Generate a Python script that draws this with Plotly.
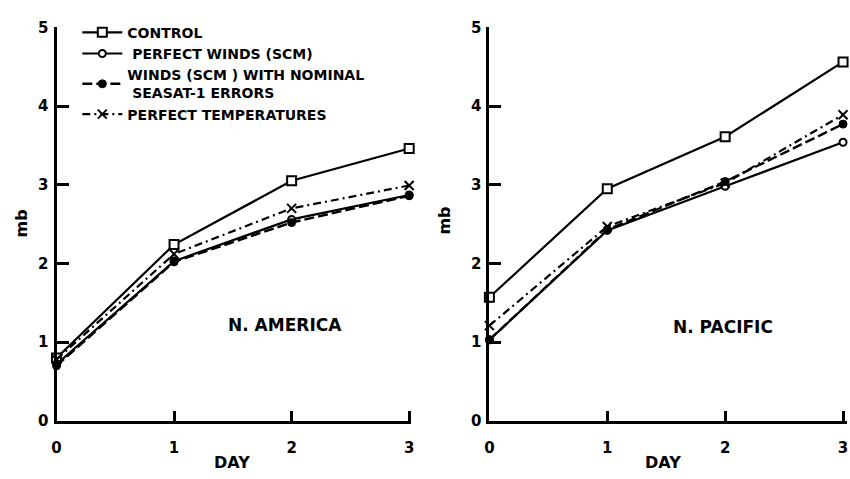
import plotly.graph_objects as go

days = [0, 1, 2, 3]
series_names = ["CONTROL", " PERFECT WINDS (SCM)", "WINDS (SCM ) WITH NOMINAL<br> SEASAT-1 ERRORS", "PERFECT TEMPERATURES"]

# N. America (left panel)
na_control = [0.80, 2.24, 3.05, 3.46]
na_perfect_winds = [0.72, 2.03, 2.56, 2.87]
na_nominal_winds = [0.70, 2.02, 2.52, 2.86]
na_perfect_temps = [0.78, 2.12, 2.70, 2.99]

# N. Pacific (right panel)
np_control = [1.57, 2.95, 3.61, 4.56]
np_perfect_winds = [1.03, 2.42, 2.98, 3.54]
np_nominal_winds = [1.03, 2.43, 3.04, 3.77]
np_perfect_temps = [1.21, 2.47, 3.02, 3.89]

FONT = "DejaVu Sans"
BLACK = "black"

styles = [
    dict(line=dict(color=BLACK, width=2.2, dash="solid"),
         marker=dict(symbol="square", size=9, color="white", line=dict(color=BLACK, width=2))),
    dict(line=dict(color=BLACK, width=2.2, dash="solid"),
         marker=dict(symbol="circle", size=7, color="white", line=dict(color=BLACK, width=2))),
    dict(line=dict(color=BLACK, width=2.4, dash="10px,4px"),
         marker=dict(symbol="circle", size=8, color=BLACK, line=dict(color=BLACK, width=1))),
    dict(line=dict(color=BLACK, width=2.2, dash="8px,4px,2px,4px"),
         marker=dict(symbol="x-thin", size=9, color=BLACK, line=dict(color=BLACK, width=2))),
]

fig = go.Figure()
left = [na_control, na_perfect_winds, na_nominal_winds, na_perfect_temps]
right = [np_control, np_perfect_winds, np_nominal_winds, np_perfect_temps]

for name, vals, st in zip(series_names, left, styles):
    fig.add_trace(go.Scatter(x=days, y=vals, name=name, mode="lines+markers",
                             line=st["line"], marker=st["marker"], cliponaxis=False,
                             xaxis="x", yaxis="y", showlegend=True))
for name, vals, st in zip(series_names, right, styles):
    fig.add_trace(go.Scatter(x=days, y=vals, name=name, mode="lines+markers",
                             line=st["line"], marker=st["marker"], cliponaxis=False,
                             xaxis="x2", yaxis="y2", showlegend=False))

W, H = 850, 479
ydom = [1 - 428 / H, 1 - 19 / H]
tickfont = dict(family=FONT, size=15, color=BLACK, weight="bold")

common_x = dict(showgrid=False, zeroline=False, showline=True, linecolor=BLACK, linewidth=3,
                ticks="inside", ticklen=10, tickwidth=3, tickcolor=BLACK,
                tickvals=days, ticktext=[str(d) for d in days], tickfont=tickfont,
                ticklabelstandoff=11)
common_y = dict(showgrid=False, zeroline=False, showline=True, linecolor=BLACK, linewidth=3,
                ticks="inside", ticklen=12, tickwidth=3, tickcolor=BLACK,
                tickvals=[0, 1, 2, 3, 4, 5], tickfont=tickfont, range=[0, 5], domain=ydom,
                ticklabelstandoff=2)

fig.update_layout(
    width=W, height=H, margin=dict(l=0, r=0, t=0, b=0),
    paper_bgcolor="white", plot_bgcolor="white",
    xaxis=dict(common_x, domain=[52 / W, 410 / W], range=[0, 358 / 118.67], anchor="y"),
    yaxis=dict(common_y, anchor="x"),
    xaxis2=dict(common_x, domain=[489 / W, 1.0], range=[0, 361 / 119.0], anchor="y2"),
    yaxis2=dict(common_y, anchor="x2"),
    legend=dict(x=73 / W, y=1 - 8 / H, xanchor="left", yanchor="top",
                bgcolor="rgba(0,0,0,0)", borderwidth=0,
                font=dict(family=FONT, size=14, color=BLACK, weight="bold"),
                itemwidth=40, tracegroupgap=0),
    showlegend=True,
)

ann_font = dict(family=FONT, color=BLACK, weight="bold")
annotations = [
    dict(text="N. AMERICA", x=283 / W, y=1 - 328 / H, size=17),
    dict(text="N. PACIFIC", x=725 / W, y=1 - 330 / H, size=17),
    dict(text="DAY", x=229 / W, y=1 - 471 / H, size=16),
    dict(text="DAY", x=664 / W, y=1 - 471 / H, size=16),
]
for a in annotations:
    fig.add_annotation(text=a["text"], x=a["x"], y=a["y"], xref="paper", yref="paper",
                       showarrow=False, xanchor="center", yanchor="middle",
                       font=dict(ann_font, size=a["size"]))
for xc, yc in [(17, 223), (444, 220)]:
    fig.add_annotation(text="mb", x=xc / W, y=1 - yc / H, xref="paper", yref="paper",
                       showarrow=False, textangle=-90, xanchor="center", yanchor="middle",
                       font=dict(ann_font, size=16))

fig.write_html("out.html")
